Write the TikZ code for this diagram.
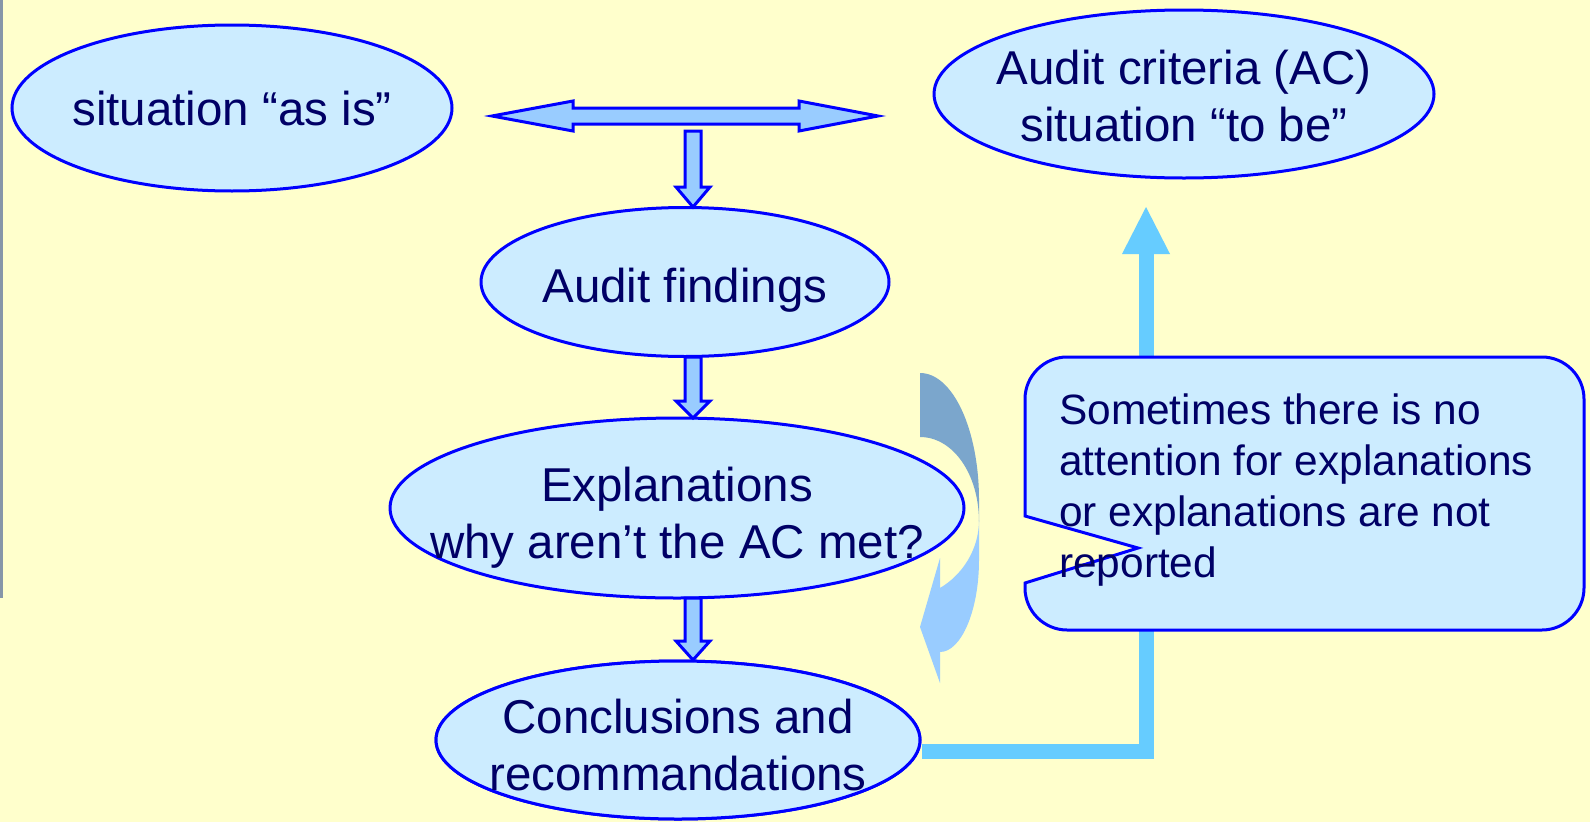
\documentclass[tikz,border=0pt]{standalone}
\usepackage{fontspec}
\setmainfont{Liberation Sans}
\usetikzlibrary{shapes.geometric}
\definecolor{bg}{HTML}{FFFFCC}
\definecolor{ellfill}{HTML}{CCECFF}
\definecolor{ellline}{HTML}{0000FF}
\definecolor{txt}{HTML}{000066}
\definecolor{arrfill}{HTML}{99CCFF}
\definecolor{conncol}{HTML}{66CCFF}
\definecolor{darkcurve}{HTML}{7BA6CC}
\definecolor{stripcol}{HTML}{8696A8}
\newcommand\dnarrow[3]{\draw[blockarrow] (685,#1) -- (701,#1) -- (701,#2) -- (710,#2) -- (693,#3) -- (676,#2) -- (685,#2) -- cycle;}
\begin{document}
\begin{tikzpicture}[x=1pt,y=-1pt,
 ell/.style={ellipse, draw=ellline, fill=ellfill, line width=3pt, inner sep=0pt},
 lbl/.style={text=txt, align=center, inner sep=0pt, font=\fontsize{47.5}{57}\selectfont},
 blockarrow/.style={draw=ellline, fill=arrfill, line width=3pt, line join=miter},
 conn/.style={draw=conncol, line width=15pt, line join=miter},
 callout/.style={draw=ellline, fill=ellfill, line width=3pt},
 notetxt/.style={anchor=north west, align=left, text=txt, inner sep=0pt, font=\fontsize{42.4}{50.7}\selectfont}]
\useasboundingbox (0,0) rectangle (1590,822);
\fill[bg] (0,0) rectangle (1590,822);
\fill[stripcol] (0,0) rectangle (3,598);
% connector
\coordinate (hb) at (1146,254);
\coordinate (tip) at (1146,207);
\node[ell, minimum width=484pt, minimum height=158pt] (conc) at (678,740) {};
\draw[conn] (conc.east) ++(0,11) -| (hb);
\fill[conncol] (tip) -- (1170,254) -- (1122,254) -- cycle;
% curved arrow
\fill[darkcurve] (920,373) .. controls (953,373) and (979,430) .. (979,500) -- (979,522) .. controls (979,474) and (953,437) .. (920,437) -- cycle;
\fill[arrfill] (979,520) -- (979,560) .. controls (979,611) and (961,652) .. (940,652) -- (940,683) -- (920,627) -- (940,558) -- (940,588) .. controls (962,575) and (979,550) .. (979,520) -- cycle;
% ellipses
\node[ell, minimum width=440pt, minimum height=166pt] (asis) at (232,108) {};
\node[ell, minimum width=500pt, minimum height=168pt] (tobe) at (1184,94) {};
\node[ell, minimum width=408pt, minimum height=149pt] (find) at (685,282) {};
\node[ell, minimum width=574pt, minimum height=180pt] (expl) at (677,508) {};
\node[ell, minimum width=484pt, minimum height=158pt] (conc) at (678,740) {};
\node[lbl, yshift=-1pt] (asis-t) at (asis) {situation “as is”};
\node[lbl, yshift=-2pt] (tobe-t) at (tobe) {Audit criteria (AC)\\situation “to be”};
\node[lbl, yshift=-8pt] (find-t) at (find) {Audit findings};
\node[lbl, yshift=-10pt] (expl-t) at (expl) {Explanations\\why aren’t the AC met?};
\node[lbl, yshift=-5pt] (conc-t) at (conc) {Conclusions and\\recommandations};
% double arrow
\draw[blockarrow] (492,116) -- (573,101) -- (573,108) -- (799,108) -- (799,101) -- (878,116) -- (799,131) -- (799,124) -- (573,124) -- (573,131) -- cycle;
% down arrows
\dnarrow{131}{187}{207}
\dnarrow{357}{401}{418}
\dnarrow{598}{641}{660}
% callout
\draw[callout] (1025,516) -- (1025,399) .. controls (1025,376) and (1044,357) .. (1067,357) -- (1542,357) .. controls (1565,357) and (1584,376) .. (1584,399) -- (1584,588) .. controls (1584,611) and (1565,630) .. (1542,630) -- (1067,630) .. controls (1044,630) and (1025,611) .. (1025,588) -- (1025,583) -- (1138,548) -- cycle;
\node[notetxt] (note) at (1059,394) {Sometimes there is no\\attention for explanations\\or explanations are not\\reported};
\end{tikzpicture}
\end{document}
